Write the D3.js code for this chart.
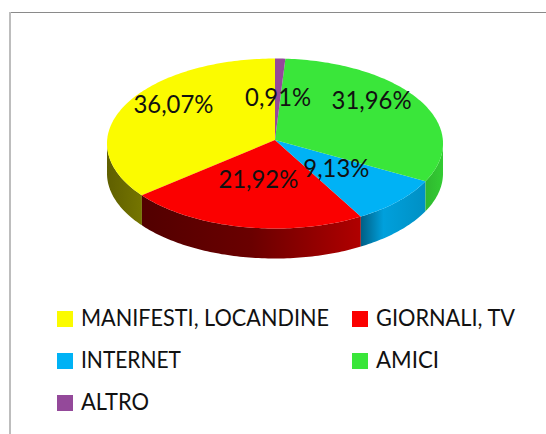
<!DOCTYPE html>
<html><head><meta charset="utf-8">
<script src="https://cdn.jsdelivr.net/npm/d3@7/dist/d3.min.js"></script>
<style>html,body{margin:0;padding:0;background:#fff}svg{display:block}text{font-family:Lato,"Open Sans",sans-serif;fill:#111}</style>
</head><body><svg id="c" width="546" height="434"></svg>
<script>
const categories=["MANIFESTI, LOCANDINE","GIORNALI, TV","INTERNET","AMICI","ALTRO"];
const values=[36.07,21.92,9.13,31.96,0.91];
const labels=["36,07%","21,92%","9,13%","31,96%","0,91%"];
const colors=["#fbfb00","#fb0000","#00b2f5","#3ae63a","#94499a"];
const sideStops=[
 [["#5f5f00",0],["#757500",1]],
 [["#520000",0],["#6a0000",.5],["#b00000",1]],
 [["#005f85",0],["#00a0dc",.35],["#0090c4",1]],
 [["#2fb82f",0],["#33cc33",1]],
 [["#5a2c5e",0],["#5a2c5e",1]]];
const labelNudge=[[-9,-19],[3.5,-14],[-13,-10],[7,-20],[0,5]];
const labelWidths=[80,80,66,80,66];
const legendWidths=[248,139,100,63,68];

const svg=d3.select("#c");
const W=546,H=434,cx=275,depth=30,warp=0.04;
const x=d3.scaleLinear([-1,1],[107,443]);
const y=d3.scaleLinear([-1,1],[58.5,228.5]);
const apex=[cx,140];
// rim point with a slight perspective warp of the angle
const rim=a=>{const w=a+warp*Math.sin(2*a);return [x(Math.sin(w)),y(-Math.cos(w))];};
const line=d3.line();
// frame
svg.append("line").attr("x1",9.5).attr("x2",W).attr("y1",12.5).attr("y2",12.5).attr("stroke","#8a8a8a");
svg.append("line").attr("x1",10).attr("x2",10).attr("y1",12).attr("y2",H).attr("stroke","#bdbdbd").attr("stroke-width",2);

// counter-clockwise from 12 o'clock
const arcs=d3.pie().sort(null).startAngle(2*Math.PI).endAngle(0)(values);
const defs=svg.append("defs");
const step=Math.PI/180;
const sample=(a0,a1)=>{const n=Math.max(2,Math.ceil(Math.abs(a1-a0)/step));return d3.range(n+1).map(i=>a0+(a1-a0)*i/n);};
const visible=p=>p[1]>=y(0)-0.01;

// walls
arcs.forEach((d,i)=>{
  const t=sample(d.startAngle,d.endAngle).map(rim).filter(visible);
  if(t.length<2)return;
  const bottom=t.map(p=>[p[0],p[1]+depth]).reverse();
  const xs=t.map(p=>p[0]);
  const g=defs.append("linearGradient").attr("id","s"+i).attr("gradientUnits","userSpaceOnUse")
    .attr("x1",d3.min(xs)).attr("x2",d3.max(xs)).attr("y1",0).attr("y2",0);
  sideStops[i].forEach(s=>g.append("stop").attr("offset",s[1]).attr("stop-color",s[0]));
  svg.append("path").attr("d",line(t.concat(bottom))+"Z").attr("fill",`url(#s${i})`);
});
// top faces
arcs.forEach((d,i)=>{
  svg.append("path").attr("d",line([apex].concat(sample(d.startAngle,d.endAngle).map(rim)))+"Z").attr("fill",colors[i]);
});
// data labels
arcs.forEach((d,i)=>{
  const m=(d.startAngle+d.endAngle)/2,p=rim(m);
  const px=apex[0]+(p[0]-apex[0])*.6+labelNudge[i][0],py=apex[1]+(p[1]-apex[1])*.6+labelNudge[i][1];
  svg.append("text").attr("x",px).attr("y",py).attr("text-anchor","middle").attr("dominant-baseline","central")
    .attr("font-size",25).attr("textLength",labelWidths[i]).attr("lengthAdjust","spacingAndGlyphs").text(labels[i]);
});
// legend
const legCol=[57,352],legRow=[319,361,403];
categories.forEach((c,i)=>{
  const X=legCol[i%2],Y=legRow[Math.floor(i/2)];
  svg.append("rect").attr("x",X).attr("y",Y-8).attr("width",16).attr("height",16).attr("fill",colors[i]);
  svg.append("text").attr("x",X+24).attr("y",Y+6.5).attr("font-size",23.5)
    .attr("textLength",legendWidths[i]).attr("lengthAdjust","spacingAndGlyphs").text(c);
});
</script></body></html>
